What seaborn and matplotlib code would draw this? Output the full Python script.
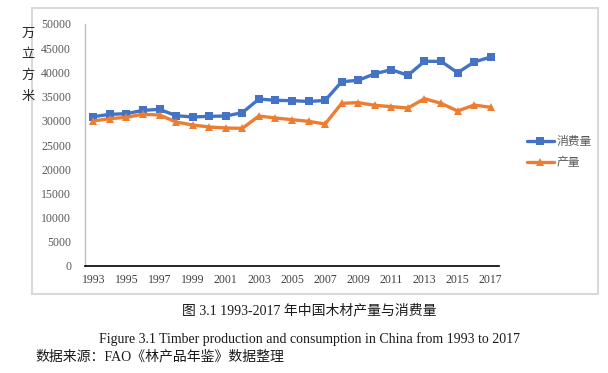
import numpy as np
import matplotlib.pyplot as plt
import seaborn as sns
import pandas as pd
from matplotlib.patches import Rectangle

years = list(range(1993, 2018))
consumption = [30850, 31340, 31470, 32160, 32370, 31060, 30790, 30920, 30990, 31680,
               34500, 34230, 34160, 34000, 34200, 38080, 38360, 39730, 40560, 39400,
               42290, 42290, 39940, 42150, 43180]
production = [29960, 30440, 30720, 31340, 31200, 29750, 29130, 28720, 28510, 28440,
              30990, 30580, 30230, 29890, 29340, 33610, 33750, 33200, 32920, 32640,
              34570, 33610, 32020, 33260, 32780]
yticks = list(range(0, 50001, 5000))

df = pd.DataFrame({'year': years, 'pos': np.arange(len(years)),
                   '消费量': consumption, '产量': production})

sns.set_style("white")
plt.rcParams['font.family'] = ['Liberation Serif', 'Noto Sans CJK SC', 'DejaVu Sans']

fig = plt.figure(figsize=(6.08, 3.73), dpi=100)
W, H = 608, 373
ax = fig.add_axes([85 / W, 1 - 266 / H, (499 - 85) / W, (266 - 24) / H])

# chart border
fig.patches.append(Rectangle((32 / W, 1 - 294 / H), (598 - 32) / W, (294 - 8) / H,
                             transform=fig.transFigure, fill=False,
                             edgecolor='#d9d9d9', lw=1.5, zorder=0))

sns.lineplot(data=df, x='pos', y='消费量', ax=ax, color='#4472C4', lw=2.4,
             marker='s', markersize=5.5, markeredgewidth=0, label='消费量')
sns.lineplot(data=df, x='pos', y='产量', ax=ax, color='#ED7D31', lw=2.4,
             marker='^', markersize=6, markeredgewidth=0, label='产量')

ax.set_xlim(-0.5, len(years) - 0.5)
ax.set_ylim(0, 50000)
ax.set_yticks(yticks)
ax.set_yticklabels([str(v) for v in yticks], fontsize=8.5, color='#595959')
ax.set_xticks(df['pos'][::2])
ax.set_xticklabels([str(y) for y in years[::2]], fontsize=8.5, color='#404040')
ax.tick_params(length=0, pad=6)
ax.tick_params(axis='y', pad=10)
ax.set_xlabel('')
ax.set_ylabel('')
for s in ['top', 'right']:
    ax.spines[s].set_visible(False)
ax.spines['left'].set_color('#bfbfbf')
ax.spines['left'].set_linewidth(1)
ax.spines['bottom'].set_color('black')
ax.spines['bottom'].set_linewidth(1.2)

leg = ax.legend(loc='center left', bbox_to_anchor=(516 / W, 1 - 152 / H),
                bbox_transform=fig.transFigure, frameon=False, fontsize=8.5,
                handlelength=2.3, handletextpad=0.2, labelspacing=0.7,
                prop={'family': ['Noto Sans CJK SC'], 'size': 8.5})
for t in leg.get_texts():
    t.set_color('#595959')

# vertical y-axis unit
for i, ch in enumerate('万立方米'):
    fig.text(28 / W, 1 - (33 + i * 21.3) / H, ch, fontsize=9.5, ha='center',
             va='center', color='#262626', family=['Noto Sans CJK SC'])

fig.text(309 / W, 1 - 311 / H, '图 3.1 1993-2017 年中国木材产量与消费量', ha='center',
         va='center', fontsize=10, color='#1a1a1a')
fig.text(310 / W, 1 - 339 / H,
         'Figure 3.1 Timber production and consumption in China from 1993 to 2017',
         ha='center', va='center', fontsize=10, color='#1a1a1a')
fig.text(35 / W, 1 - 357 / H, '数据来源：FAO《林产品年鉴》数据整理', ha='left',
         va='center', fontsize=10, color='#1a1a1a')

fig.savefig('out.png', dpi=100)
